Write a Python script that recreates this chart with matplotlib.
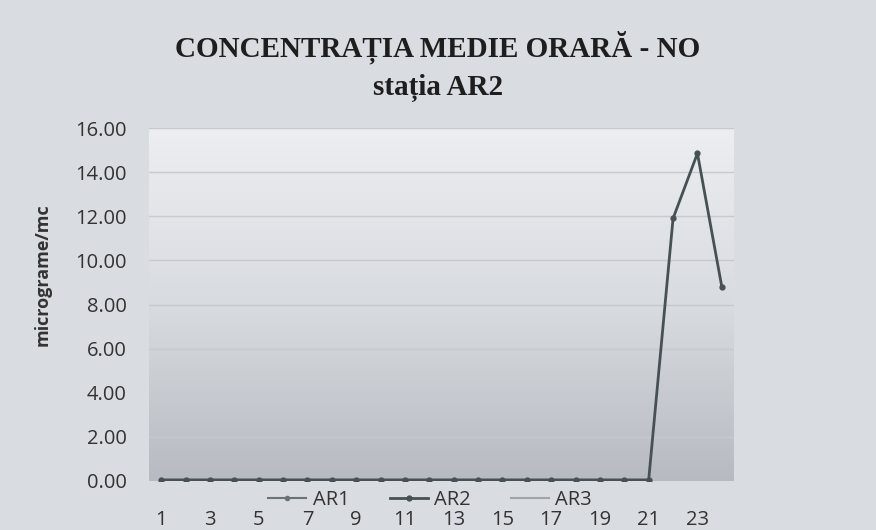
import numpy as np
import matplotlib
matplotlib.use("Agg")
import matplotlib.pyplot as plt
from matplotlib.colors import LinearSegmentedColormap

hours = list(range(1, 25))
ar2 = [0.05] * 21 + [11.9, 14.85, 8.8]
ar1 = []
ar3 = []
yticks = [0, 2, 4, 6, 8, 10, 12, 14, 16]
xtick_labels = [str(h) for h in range(1, 25, 2)]

fig = plt.figure(figsize=(8.76, 5.30), dpi=100)
fig.patch.set_facecolor("#d9dce1")

W, H = 876, 530
l, r, t, b = 149, 734, 128, 481
ax = fig.add_axes([l / W, 1 - b / H, (r - l) / W, (b - t) / H])
ax.set_facecolor("#d9dce1")

# gradient plot area background
cmap = LinearSegmentedColormap.from_list("g", ["#eceef1", "#d8dbe0", "#b7bbc1"])
grad = np.linspace(0, 1, 256).reshape(-1, 1)
ax.imshow(grad, aspect="auto", cmap=cmap, extent=(0.5, 24.5, 0, 16),
          origin="upper", zorder=0)

for y in yticks[1:]:
    ax.axhline(y, color="#c6c9ce", lw=1.0, zorder=1)

ax.plot(hours, ar2, color="#475155", lw=2.0, marker="o", ms=3.5,
        zorder=3, label="AR2")
ax.plot(ar1, ar1, color="#6b7377", lw=1.5, marker="o", ms=3, label="AR1")
ax.plot(ar3, ar3, color="#9ea4a8", lw=1.5, label="AR3")

ax.set_xlim(0.5, 24.5)
ax.set_ylim(0, 16)
ax.set_yticks(yticks)
ax.set_yticklabels([f"{v:.2f}" for v in yticks], fontsize=14.5,
                   family="Open Sans", color="#333333")
ax.set_xticks(list(range(1, 25, 2)))
ax.set_xticklabels(xtick_labels, fontsize=14.5, family="Open Sans",
                   color="#333333")
ax.tick_params(axis="both", length=0)
ax.tick_params(axis="y", pad=16)
ax.tick_params(axis="x", pad=21)
for s in ax.spines.values():
    s.set_visible(False)

ax.set_ylabel("micrograme/mc", fontsize=13,
              family="Open Sans", fontweight="bold", color="#333333")
ax.yaxis.set_label_coords((52 - l) / (r - l), (b - 275) / (b - t))

fig.text(0.5, 1 - 47 / H, "CONCENTRAȚIA MEDIE ORARĂ - NO", ha="center",
         va="center", family="Liberation Serif", fontweight="bold",
         fontsize=21, color="#1e1e1e")
fig.text(0.5, 1 - 88 / H, "stația AR2", ha="center", va="center",
         family="Liberation Serif", fontweight="bold", fontsize=21,
         color="#1e1e1e")

handles, labels = ax.get_legend_handles_labels()
order = [labels.index(n) for n in ["AR1", "AR2", "AR3"]]
leg = fig.legend([handles[i] for i in order], [labels[i] for i in order],
                 loc="center", bbox_to_anchor=(430 / W, 1 - 500 / H),
                 ncol=3, frameon=False,
                 prop={"family": "Open Sans", "size": 14.5},
                 handlelength=1.9, columnspacing=2.0, handletextpad=0.3,
                 borderpad=0.0, labelcolor="#333333")

fig.savefig("out.png", dpi=100, facecolor=fig.get_facecolor())
